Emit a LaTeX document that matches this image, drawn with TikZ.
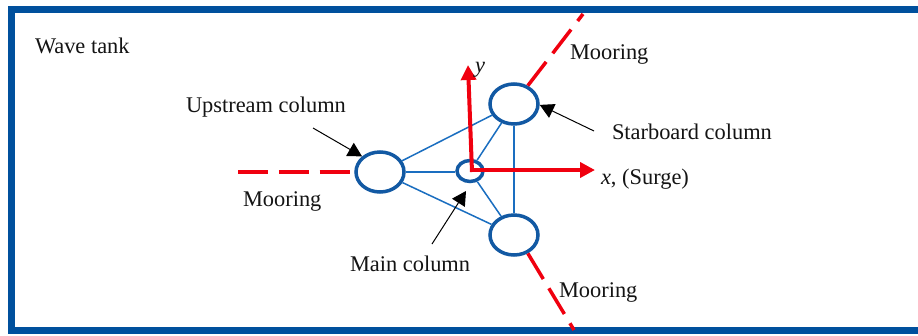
\documentclass[tikz,border=0pt]{standalone}
\usepackage{fontspec}
\setmainfont{Liberation Serif}
\usetikzlibrary{arrows.meta,shapes.geometric}
\definecolor{tankblue}{HTML}{00509D}
\definecolor{colblue}{HTML}{1259A3}
\definecolor{barblue}{HTML}{1A6EC0}
\definecolor{moorred}{HTML}{F0000F}
\definecolor{inktext}{HTML}{141414}
\tikzset{
  lbl/.style={anchor=base west,inner sep=0pt,outer sep=0pt,text=inktext,font=\fontsize{22.4}{26}\selectfont},
  column/.style={ellipse,draw=colblue,line width=3.5pt,inner sep=0pt,minimum width=48pt,minimum height=40pt},
  maincol/.style={ellipse,draw=colblue,line width=3.5pt,inner sep=0pt,minimum width=26pt,minimum height=21pt},
  bar/.style={draw=barblue,line width=1.5pt},
  mooring/.style={draw=moorred,line width=3.5pt,dash pattern=on 30pt off 10.8pt},
  axis/.style={draw=moorred,line width=4pt,-{Triangle[length=15pt,width=15pt]}},
  pointer/.style={draw=black,line width=1pt,-{Triangle[length=14pt,width=15pt]}},
}
\begin{document}
\begin{tikzpicture}[x=1pt,y=-1pt]
\useasboundingbox (0,0) rectangle (918,335);
% tank walls
\fill[white] (0,0) rectangle (918,335);
\fill[tankblue] (8,5.5) rectangle (918,12.7);
\fill[tankblue] (8,5.5) rectangle (15,334);
\fill[tankblue] (8,327) rectangle (918,334);
% columns
\node[column] (up) at (380,172) {};
\node[column] (star) at (514,104) {};
\node[column] (bot) at (514,235) {};
\node[maincol] (main) at (470,171) {};
% braces
\draw[bar] (up) -- (star);
\draw[bar] (up) -- (bot);
\draw[bar] (up.east) -- (main.west |- up.east);
\draw[bar] (main) -- (star);
\draw[bar] (main) -- (bot);
\draw[bar] (star) -- (bot);
% moorings
\coordinate (leftend) at (238,172);
\coordinate (neend) at (583,14);
\coordinate (seend) at (574,330);
\draw[mooring] (leftend) -- (up.west);
\draw[mooring] (star.53) -- (neend);
\draw[mooring] (bot.-53) -- (seend);
% axes
\coordinate (origin) at (472,170);
\coordinate (ytip) at (468,65);
\coordinate (xtip) at (595,170);
\draw[axis] (origin) ++(0,2) -- (ytip);
\draw[axis] (origin) -- (xtip);
% labels
\node[lbl] (tank) at (35,53) {Wave tank};
\node[lbl] (upl) at (186,112) {Upstream column};
\node[lbl] (ml) at (243,206.5) {Mooring};
\node[lbl] (mn) at (570,59) {Mooring};
\node[lbl] (ms) at (559,297) {Mooring};
\node[lbl] (mainl) at (350,271.5) {Main column};
\node[lbl] (starl) at (612,139) {Starboard column};
\node[lbl] (yl) at (475,72.5) {\textit{y}};
\node[lbl] (xl) at (601,184) {\textit{x}, (Surge)};
% pointers
\coordinate (upfrom) at (313,128);
\coordinate (starfrom) at (594,131);
\coordinate (mainfrom) at (432,244);
\coordinate (maintip) at (466,191);
\draw[pointer] (upfrom) -- (up.139);
\draw[pointer] (starfrom) -- (star.-2);
\draw[pointer] (mainfrom) -- (maintip);
\end{tikzpicture}
\end{document}
